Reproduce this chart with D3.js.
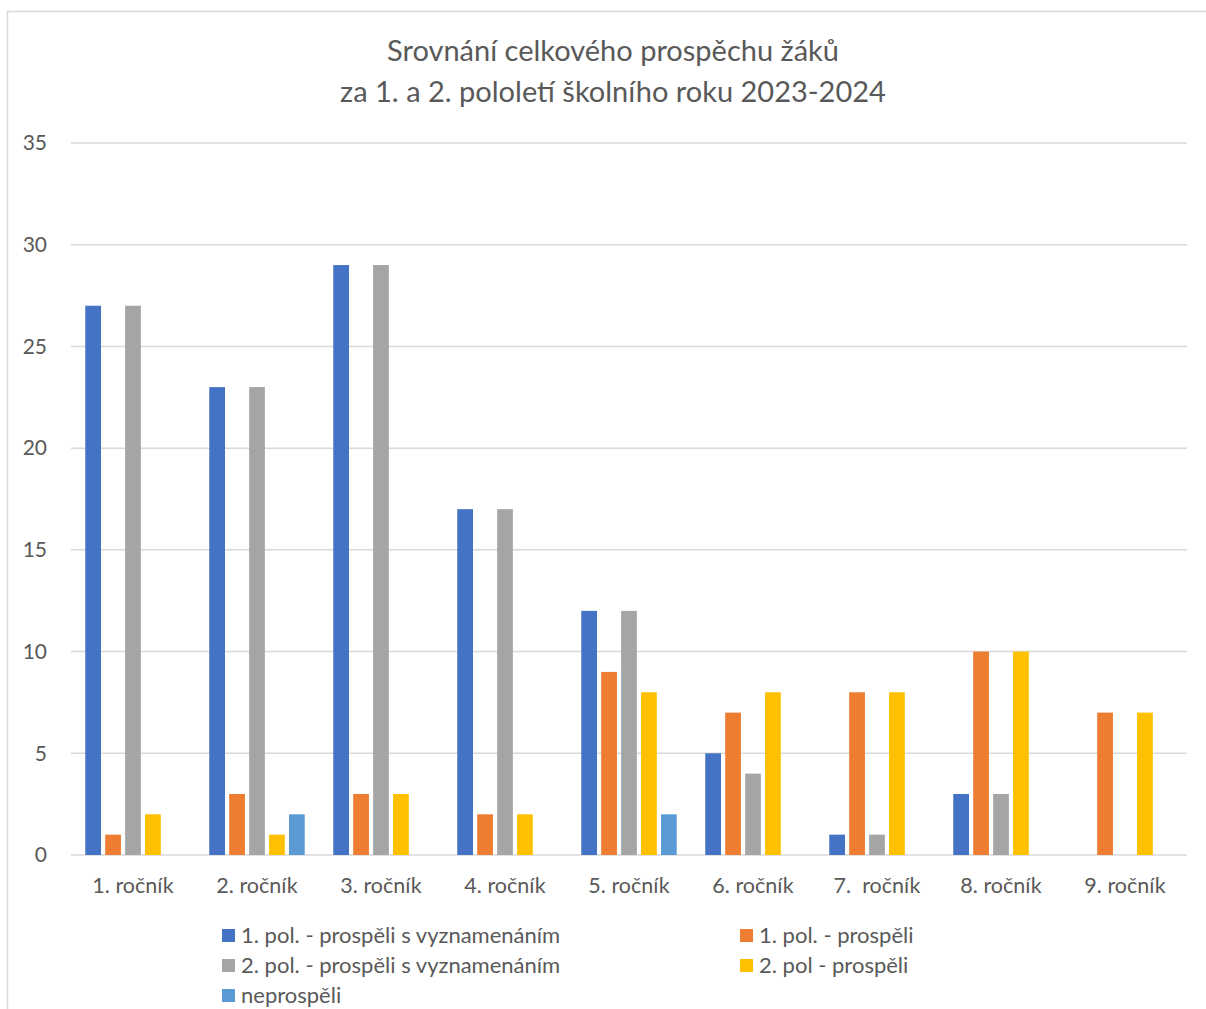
<!DOCTYPE html>
<html>
<head>
<meta charset="utf-8">
<script src="https://cdn.jsdelivr.net/npm/d3@7"></script>
<style>
  body { margin: 0; background: #fff; }
  text { font-family: Lato, "Noto Sans", sans-serif; fill: #595959; }
</style>
</head>
<body>
<svg id="chart" width="1206" height="1009"></svg>
<script>
const categories = ["1. ročník", "2. ročník", "3. ročník", "4. ročník", "5. ročník", "6. ročník", "7.  ročník", "8. ročník", "9. ročník"];
const seriesNames = ["1. pol. - prospěli s vyznamenáním", "1. pol. - prospěli", "2. pol. - prospěli s vyznamenáním", "2. pol - prospěli", "neprospěli"];
const colors = ["#4472c4", "#ed7d31", "#a5a5a5", "#ffc000", "#5b9bd5"];
const pol1Vyzn = [27, 23, 29, 17, 12, 5, 1, 3, 0];
const pol1Prosp = [1, 3, 3, 2, 9, 7, 8, 10, 7];
const pol2Vyzn = [27, 23, 29, 17, 12, 4, 1, 3, 0];
const pol2Prosp = [2, 1, 3, 2, 8, 8, 8, 10, 7];
const neprospeli = [0, 2, 0, 0, 2, 0, 0, 0, 0];
const yTicks = [0, 5, 10, 15, 20, 25, 30, 35];

const values = [pol1Vyzn, pol1Prosp, pol2Vyzn, pol2Prosp, neprospeli];
const data = categories.map((c, i) => ({cat: c, vals: values.map((s, k) => ({key: seriesNames[k], value: s[i], color: colors[k]}))}));

const svg = d3.select("#chart");
const margin = {top: 143, right: 19, bottom: 154, left: 71};
const width = 1206, height = 1009;
const font = "Lato, 'Noto Sans', sans-serif";

// outer frame
svg.append("rect").attr("x", 7.5).attr("y", 11.5).attr("width", 1230).attr("height", 1030)
  .attr("fill", "none").attr("stroke", "#d9d9d9").attr("stroke-width", 1.5);

// title
svg.append("text").attr("x", 613).attr("y", 61).attr("text-anchor", "middle").style("font-size", "29px")
  .text("Srovnání celkového prospěchu žáků");
svg.append("text").attr("x", 613).attr("y", 102).attr("text-anchor", "middle").style("font-size", "29px")
  .text("za 1. a 2. pololetí školního roku 2023-2024");

const x0 = d3.scaleBand().domain(categories).range([margin.left, width - margin.right]);
const groupPad = x0.bandwidth() * 0.115;
const x1 = d3.scaleBand().domain(seriesNames).range([groupPad, x0.bandwidth() - groupPad]).paddingInner(0.21);
const y = d3.scaleLinear().domain([0, 35]).range([height - margin.bottom, margin.top]);

// grid
svg.append("g").selectAll("line").data(yTicks).join("line")
  .attr("x1", margin.left).attr("x2", width - margin.right)
  .attr("y1", d => y(d)).attr("y2", d => y(d))
  .attr("stroke", "#d9d9d9").attr("stroke-width", 1.5);

// y axis labels
const yAxis = svg.append("g").attr("transform", `translate(${margin.left - 24},0)`)
  .call(d3.axisLeft(y).tickValues(yTicks).tickSize(0).tickPadding(0));
yAxis.select(".domain").remove();
yAxis.selectAll("text").style("font-size", "21px").attr("fill", "#595959").style("font-family", font);

// bars
svg.append("g").selectAll("g").data(data).join("g")
  .attr("transform", d => `translate(${x0(d.cat)},0)`)
  .selectAll("rect").data(d => d.vals.filter(v => v.value > 0)).join("rect")
  .attr("x", d => x1(d.key)).attr("width", x1.bandwidth())
  .attr("y", d => y(d.value)).attr("height", d => y(0) - y(d.value))
  .attr("fill", d => d.color);

// x axis labels
const xAxis = svg.append("g").attr("transform", `translate(0,${y(0) + 23})`)
  .call(d3.axisBottom(x0).tickSize(0).tickPadding(0));
xAxis.select(".domain").remove();
xAxis.selectAll("text").style("font-size", "21.5px").attr("fill", "#595959").style("font-family", font)
  .style("white-space", "pre").attr("dy", "0.71em");

// legend
const legendPos = [[222, 935], [740, 935], [222, 965], [740, 965], [222, 995]];
const legend = svg.append("g").selectAll("g").data(seriesNames).join("g")
  .attr("transform", (d, i) => `translate(${legendPos[i][0]},${legendPos[i][1]})`);
legend.append("rect").attr("x", 0).attr("y", -6).attr("width", 13).attr("height", 13).attr("fill", (d, i) => colors[i]);
legend.append("text").attr("x", 19).attr("y", 0).attr("dy", "0.35em").style("font-size", "22px").text(d => d);
</script>
</body>
</html>
